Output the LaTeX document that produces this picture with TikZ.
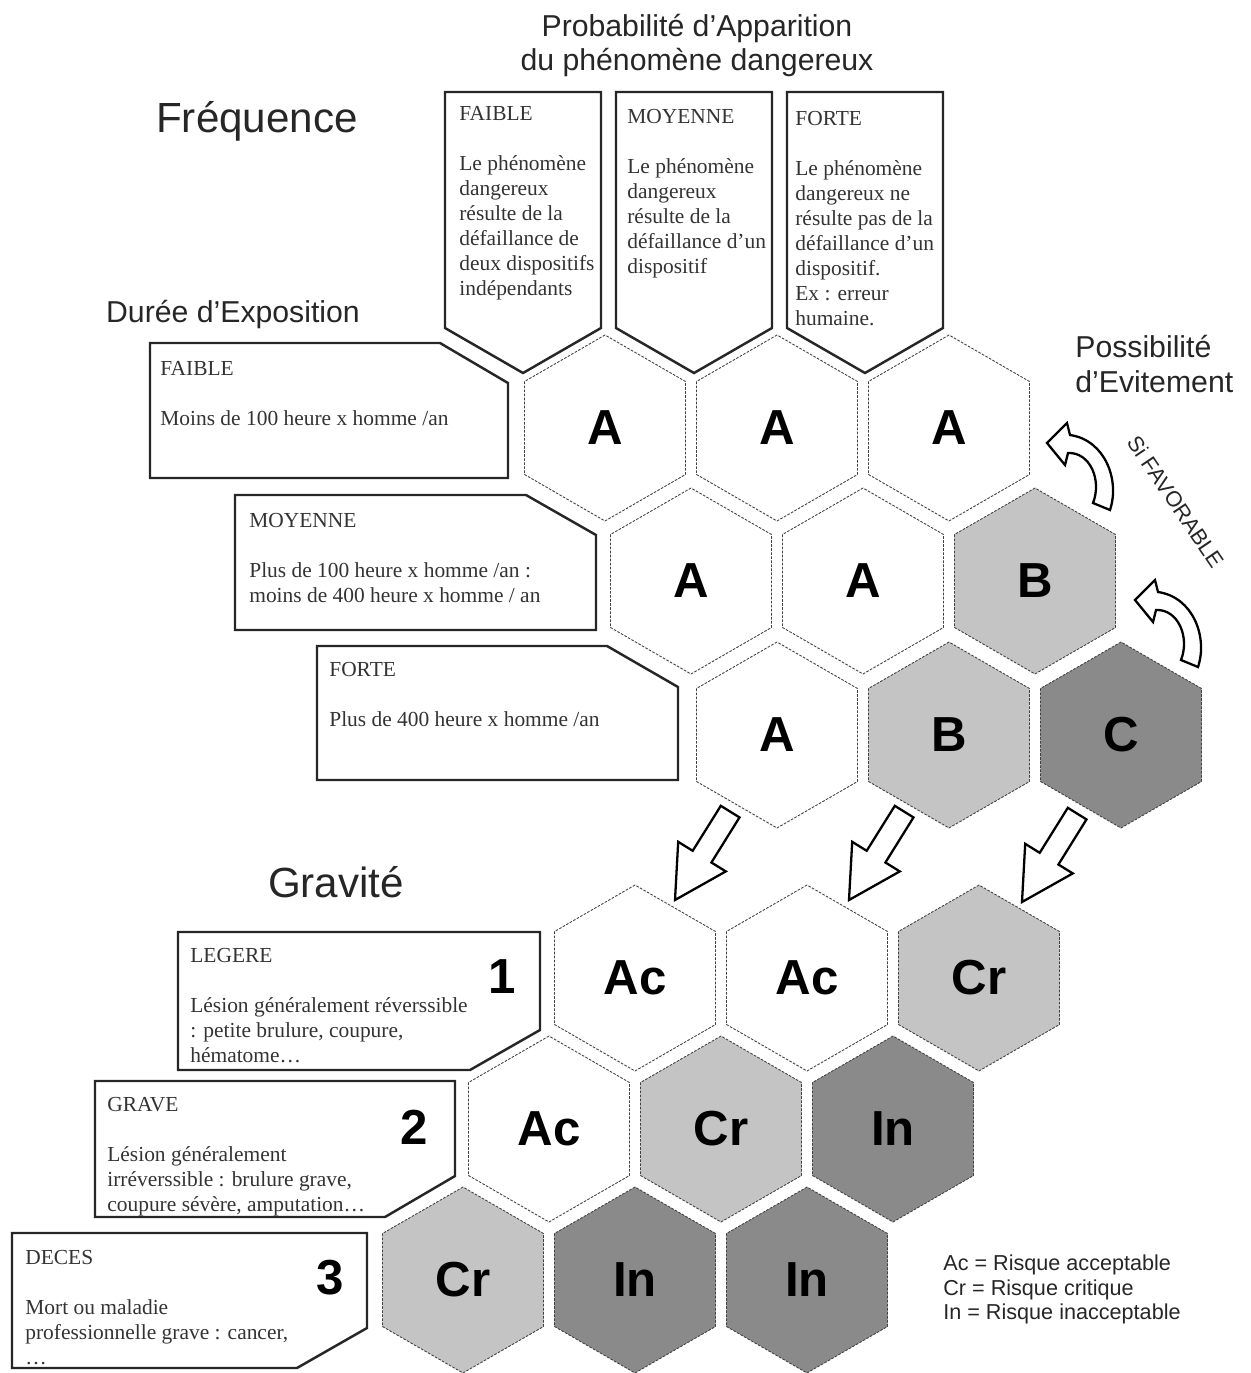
\documentclass[tikz,border=0pt]{standalone}
\usepackage{fontspec}
\setmainfont{Liberation Serif}
\setsansfont{Liberation Sans}
\usetikzlibrary{shapes.geometric}

\definecolor{risquemoyen}{gray}{0.77}
\definecolor{risquefort}{gray}{0.54}

\tikzset{
  hexcell/.style={regular polygon, regular polygon sides=6, shape border rotate=30,
    minimum size=3.72cm, inner sep=0pt, draw=black!75, line width=0.5pt,
    dash pattern=on 1.5pt off 0.8pt, font=\sffamily\bfseries\fontsize{28}{30}\selectfont},
  cadre/.style={draw=black!85, line width=1.4pt, line join=miter},
  textecadre/.style={anchor=north west, inner sep=0pt, align=left, text=black!80,
    font=\fontsize{12.2}{14.2}\selectfont},
  titre/.style={anchor=base, inner sep=0pt, text=black!85,
    font=\sffamily\fontsize{17.2}{20}\selectfont},
  grandtitre/.style={anchor=base, inner sep=0pt, text=black!85,
    font=\sffamily\fontsize{24}{28}\selectfont},
  chiffre/.style={inner sep=0pt, font=\sffamily\bfseries\fontsize{28}{30}\selectfont},
  legende/.style={anchor=base west, inner sep=0pt, text=black!85,
    font=\sffamily\fontsize{12.3}{14}\selectfont},
  fleche/.style={draw=black, line width=1.3pt, fill=white, line join=miter},
}

\begin{document}
\begin{tikzpicture}[x={(0.02cm,0)}, y={(0,-0.02cm)}]
\useasboundingbox (0,0) rectangle (1251,1373);

% titres
\node[titre] (proba1) at (697,36) {Probabilité d'Apparition};
\node[titre] (proba2) at (697,70) {du phénomène dangereux};
\node[grandtitre] (freq) at (257,132) {Fréquence};
\node[titre] (duree) at (233,322) {Durée d'Exposition};
\node[titre, anchor=base west] (evit1) at (1075,357) {Possibilité};
\node[titre, anchor=base west] (evit2) at (1075,392) {d'Evitement};
\node[grandtitre] (grav) at (336,897) {Gravité};
\node[inner sep=0pt, rotate=-56, text=black!85, font=\sffamily\fontsize{12.4}{14}\selectfont]
  (favorable) at (1176,502) {Si FAVORABLE};

% probabilite d'apparition
\draw[cadre] (445,92) -- (601,92) -- (601,328) -- (523,373) -- (445,328) -- cycle;
\draw[cadre] (616,92) -- (772,92) -- (772,328) -- (694,373) -- (616,328) -- cycle;
\draw[cadre] (787,92) -- (943,92) -- (943,328) -- (865,373) -- (787,328) -- cycle;
\node[textecadre] (pfaible) at (459,106) {FAIBLE\\[14.2pt]Le phénomène\\dangereux\\résulte de la\\défaillance de\\deux dispositifs\\indépendants};
\node[textecadre] (pmoyenne) at (627,109) {MOYENNE\\[14.2pt]Le phénomène\\dangereux\\résulte de la\\défaillance d’un\\dispositif};
\node[textecadre] (pforte) at (795,111) {FORTE\\[14.2pt]Le phénomène\\dangereux ne\\résulte pas de la\\défaillance d’un\\dispositif.\\Ex : erreur\\humaine.};

% duree d'exposition
\draw[cadre] (150,343) -- (440,343) -- (508,383) -- (508,478) -- (150,478) -- cycle;
\draw[cadre] (235,495) -- (526,495) -- (596,535) -- (596,630) -- (235,630) -- cycle;
\draw[cadre] (317,646) -- (607,646) -- (678,687) -- (678,780) -- (317,780) -- cycle;
\node[textecadre] (dfaible) at (160,361) {FAIBLE\\[14.2pt]Moins de 100 heure x homme /an};
\node[textecadre] (dmoyenne) at (249,513) {MOYENNE\\[14.2pt]Plus de 100 heure x homme /an :\\moins de 400 heure x homme / an};
\node[textecadre] (dforte) at (329,662) {FORTE\\[14.2pt]Plus de 400 heure x homme /an};

% frequence
\node[hexcell] (u11) at (605,428) {A};
\node[hexcell] (u12) at (777,428) {A};
\node[hexcell] (u13) at (949,428) {A};
\node[hexcell] (u21) at (691,581) {A};
\node[hexcell] (u22) at (863,581) {A};
\node[hexcell, fill=risquemoyen] (u23) at (1035,581) {B};
\node[hexcell] (u31) at (777,735) {A};
\node[hexcell, fill=risquemoyen] (u32) at (949,735) {B};
\node[hexcell, fill=risquefort] (u33) at (1121,735) {C};

% si favorable
\foreach \dx/\dy in {0/0, 88/157}
  \draw[fleche, shift={(\dx,\dy)}] (1110,510) .. controls (1120,480) and (1105,440) .. (1070,435)
    -- (1067,423) -- (1047,443) -- (1065,465) -- (1068,453)
    .. controls (1090,452) and (1102,480) .. (1093,503) -- cycle;

% vers la gravite
\foreach \x/\y in {675/900, 849/900, 1022/902}
  \draw[fleche, shift={(\x,\y)}] (0,0) -- (50.8,-28.6) -- (36.4,-37.5) -- (64.5,-82.6)
    -- (45.8,-94.2) -- (17.7,-49.2) -- (3.2,-58.2) -- cycle;

% gravite
\draw[cadre] (178,932) -- (540,932) -- (540,1030) -- (470,1070) -- (178,1070) -- cycle;
\draw[cadre] (95,1081) -- (455,1081) -- (455,1176) -- (385,1217) -- (95,1217) -- cycle;
\draw[cadre] (12,1233) -- (367,1233) -- (367,1328) -- (297,1368) -- (12,1368) -- cycle;
\node[textecadre] (glegere) at (190,948) {LEGERE\\[14.2pt]Lésion généralement réverssible\\: petite brulure, coupure,\\hématome…};
\node[textecadre] (ggrave) at (107,1097) {GRAVE\\[14.2pt]Lésion généralement\\irréverssible : brulure grave,\\coupure sévère, amputation…};
\node[textecadre] (gdeces) at (25,1250) {DECES\\[14.2pt]Mort ou maladie\\professionnelle grave : cancer,\\…};
\node[chiffre] (n1) at (502,977) {1};
\node[chiffre] (n2) at (414,1127) {2};
\node[chiffre] (n3) at (330,1278) {3};

\node[hexcell] (g11) at (635,978) {Ac};
\node[hexcell] (g12) at (807,978) {Ac};
\node[hexcell, fill=risquemoyen] (g13) at (979,978) {Cr};
\node[hexcell] (g21) at (549,1129) {Ac};
\node[hexcell, fill=risquemoyen] (g22) at (721,1129) {Cr};
\node[hexcell, fill=risquefort] (g23) at (893,1129) {In};
\node[hexcell, fill=risquemoyen] (g31) at (463,1280) {Cr};
\node[hexcell, fill=risquefort] (g32) at (635,1280) {In};
\node[hexcell, fill=risquefort] (g33) at (807,1280) {In};

% legende
\node[legende] (leg1) at (943,1270) {Ac = Risque acceptable};
\node[legende] (leg2) at (943,1295) {Cr = Risque critique};
\node[legende] (leg3) at (943,1319) {In = Risque inacceptable};
\end{tikzpicture}
\end{document}
